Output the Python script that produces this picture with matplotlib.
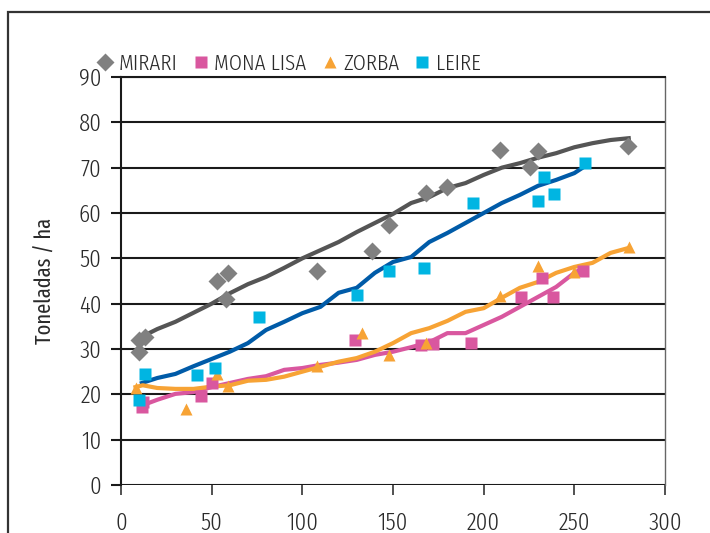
import matplotlib
matplotlib.use('Agg')
import matplotlib.pyplot as plt
from matplotlib import font_manager
from matplotlib.patches import Rectangle

# --- fuente: una condensada si existe ---
nombres = {f.name for f in font_manager.fontManager.ttflist}
FUENTE, ESTIRAR, PESO = 'DejaVu Sans', 'condensed', 'normal'
for candidata in ['Fira Sans Extra Condensed', 'IBM Plex Sans Condensed', 'Encode Sans Condensed']:
    if candidata in nombres:
        FUENTE, ESTIRAR, PESO = candidata, 'normal', 300
        break
plt.rcParams['font.family'] = [FUENTE, 'DejaVu Sans']
plt.rcParams['font.weight'] = PESO

# --- datos: puntos observados ---
mirari_x = [10, 13, 10, 53, 59, 58, 108, 138.5, 148, 168, 180, 209, 225.6, 230, 279.6]
mirari_y = [32, 32.6, 29.3, 45, 46.8, 41, 47.2, 51.6, 57.4, 64.4, 65.8, 73.9, 70.2, 73.7, 74.8]

mona_x = [11.5, 12, 44, 50, 129, 165.5, 172, 193, 220.6, 232, 238, 255]
mona_y = [17.2, 18.3, 19.6, 22.5, 32, 30.9, 31.1, 31.3, 41.5, 45.7, 41.5, 47.2]

zorba_x = [8, 36, 53, 59, 108, 133, 148, 168, 209, 230, 250, 280]
zorba_y = [21.4, 16.8, 24.5, 21.8, 26.3, 33.5, 28.7, 31.3, 41.7, 48.3, 47, 52.5]

leire_x = [10, 13, 42, 52, 76, 130, 148, 167, 194, 230, 233, 239, 256]
leire_y = [18.7, 24.5, 24.3, 25.8, 37, 41.9, 47.2, 47.9, 62.2, 62.6, 68, 64.2, 71]

# --- datos: curvas de tendencia ---
mirari_lx = [11.5, 20, 30, 40, 50, 60, 70, 80, 90, 100, 110, 120, 130, 140, 150,
             160, 170, 180, 190, 200, 210, 220, 230, 240, 250, 260, 270, 280]
mirari_ly = [32.7, 34.4, 36, 38, 40, 42.3, 44.3, 45.9, 47.9, 50, 51.8, 53.6, 55.8, 57.8, 59.8,
             62.2, 63.5, 65.5, 66.6, 68.4, 70, 71, 72.2, 73.2, 74.5, 75.4, 76.1, 76.5]

leire_lx = [11.5, 20, 30, 40, 50, 60, 70, 80, 90, 100, 110, 120, 130, 140, 150,
            160, 170, 180, 190, 200, 210, 220, 230, 240, 250, 255]
leire_ly = [22.5, 23.6, 24.5, 26.2, 27.8, 29.4, 31.3, 34.2, 36, 37.9, 39.3, 42.4, 43.5, 46.8, 49.2,
            50.3, 53.6, 55.6, 57.8, 60, 62.2, 64, 66, 67.3, 68.8, 70.1]

mona_lx = [12, 20, 30, 40, 50, 60, 70, 80, 90, 100, 110, 120, 130, 140, 150,
           160, 170, 180, 190, 200, 210, 220, 230, 240, 250, 255]
mona_ly = [17.6, 18.8, 20.1, 20.5, 21.6, 22.5, 23.4, 24, 25.4, 25.8, 26.5, 27, 27.6, 28.7, 29.4,
           30.4, 31.5, 33.5, 33.5, 35.3, 37.1, 39.3, 41.5, 43.7, 46.8, 47.9]

zorba_lx = [8, 12, 20, 30, 40, 50, 60, 70, 80, 90, 100, 110, 120, 130, 140, 150,
            160, 170, 180, 190, 200, 210, 220, 230, 240, 250, 260, 270, 280]
zorba_ly = [21.6, 22, 21.4, 21.2, 21.2, 21.7, 22, 23, 23.2, 23.9, 25, 26.1, 27.2, 28, 29.4, 31.3,
            33.5, 34.6, 36.2, 38.2, 39, 41.3, 43.5, 44.8, 46.8, 48.1, 49, 51.2, 52.3]

# --- colores ---
GRIS_M, GRIS_L = '#808080', '#555555'
ROSA = '#d9579f'
NARANJA = '#f7a335'
CIAN, AZUL = '#00b5e2', '#005ba8'
TEXTO = '#2a2a2a'

fig = plt.figure(figsize=(7.1, 5.33), dpi=100)
ax = fig.add_axes([121 / 710, 1 - 485 / 533, 544 / 710, 408 / 533])

# marco exterior
fig.patches.append(Rectangle((8 / 710, -0.1), 1.2, 1 - 12 / 533 + 0.1, transform=fig.transFigure,
                             fill=False, edgecolor='#333333', linewidth=1.6))

ax.plot(mirari_lx, mirari_ly, color=GRIS_L, lw=3, zorder=3)
ax.plot(leire_lx, leire_ly, color=AZUL, lw=3, zorder=3)
ax.plot(mona_lx, mona_ly, color=ROSA, lw=3, zorder=3)
ax.plot(zorba_lx, zorba_ly, color=NARANJA, lw=3, zorder=3)

ax.plot(mirari_x, mirari_y, 'D', color=GRIS_M, ms=9.5, mec='none', zorder=4, label='MIRARI')
ax.plot(mona_x, mona_y, 's', color=ROSA, ms=8, mec='none', zorder=4, label='MONA LISA')
ax.plot(zorba_x, zorba_y, '^', color=NARANJA, ms=9, mec='none', zorder=4, label='ZORBA')
ax.plot(leire_x, leire_y, 's', color=CIAN, ms=8, mec='none', zorder=4, label='LEIRE')

ax.set_xlim(0, 300)
ax.set_ylim(0, 90)
ax.set_xticks(range(0, 301, 50))
ax.set_yticks(range(0, 91, 10))
ax.yaxis.grid(True, color='#1a1a1a', linewidth=1.5)
ax.set_axisbelow(True)
for s in ['top', 'left']:
    ax.spines[s].set_color('#1a1a1a')
    ax.spines[s].set_linewidth(1.5)
ax.spines['right'].set_color('#666666')
ax.spines['right'].set_linewidth(1.0)
ax.spines['bottom'].set_visible(False)
ax.tick_params(axis='y', length=7, width=1.5, color='#1a1a1a', pad=7, labelsize=18, labelcolor=TEXTO)
ax.tick_params(axis='x', length=7, width=1.2, color='#333333', pad=12, labelsize=18, labelcolor=TEXTO)
for t in ax.get_xticklabels() + ax.get_yticklabels():
    t.set_fontstretch(ESTIRAR)

ax.set_ylabel('Toneladas / ha', fontsize=16, color=TEXTO, labelpad=16, fontstretch=ESTIRAR)

leg = ax.legend(loc='lower left', bbox_to_anchor=(-0.063, 0.985), ncol=4, frameon=False,
                handlelength=0.8, handletextpad=0.2, columnspacing=0.6, borderaxespad=0.0,
                prop={'family': FUENTE, 'size': 16.5, 'stretch': ESTIRAR, 'weight': PESO},
                labelcolor=TEXTO)

plt.savefig('out.png', dpi=100)
